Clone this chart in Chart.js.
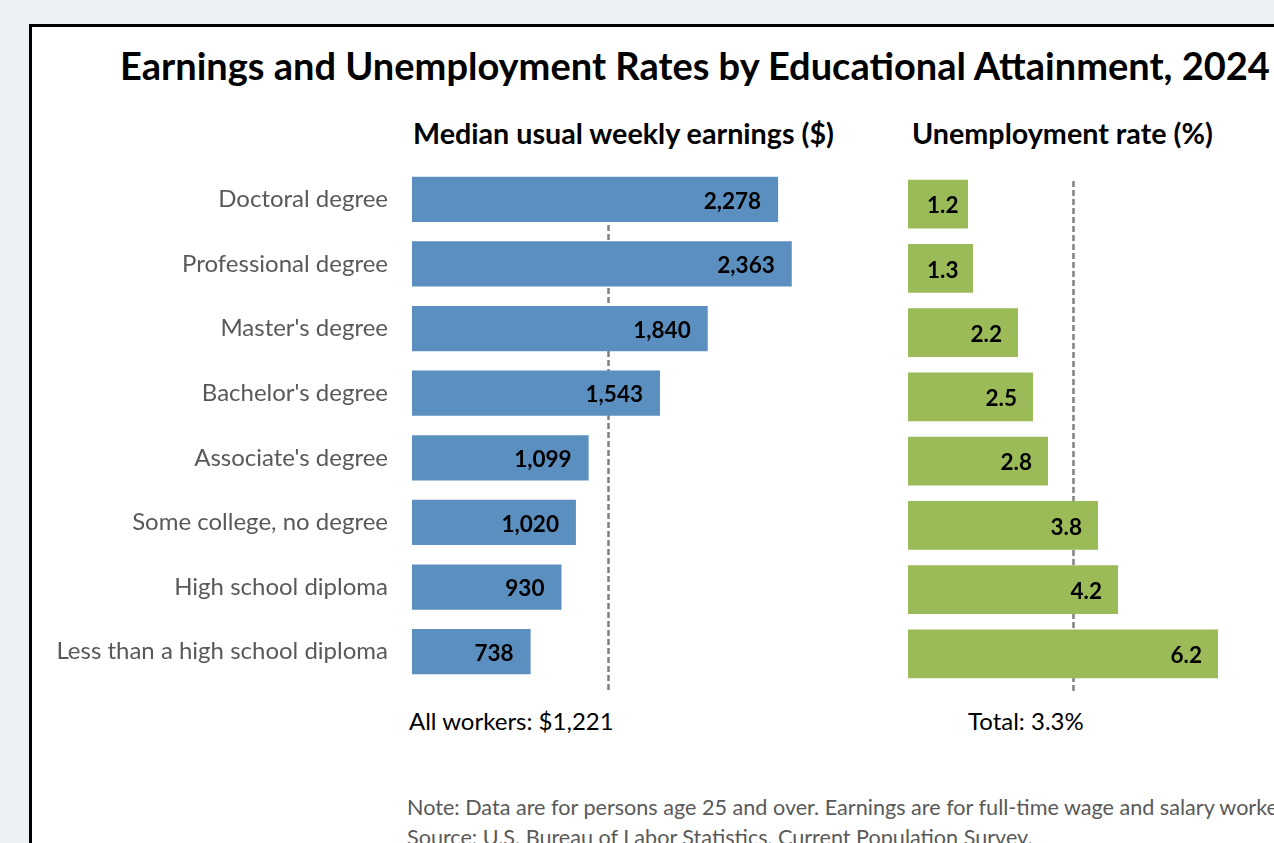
<!DOCTYPE html>
<html>
<head>
<meta charset="utf-8">
<script src="https://cdn.jsdelivr.net/npm/chart.js@4.4.1/dist/chart.umd.min.js"></script>
<style>
  html, body { margin: 0; padding: 0; }
  body { width: 1274px; height: 843px; overflow: hidden; background: #edf0f2; position: relative; font-family: Lato, "Open Sans", sans-serif; }
  .panel { position: absolute; left: 29px; top: 24px; width: 1320px; height: 900px; background: #fff; border: 3px solid #000; box-sizing: border-box; }
  .txt { position: absolute; white-space: nowrap; line-height: 1; }
  .title { left: 120px; top: 46px; font-size: 38px; font-weight: 700; color: #000; }
  .sub { top: 119px; font-size: 28.7px; font-weight: 700; color: #000; }
  .avg { top: 709px; font-size: 24px; color: #000; }
  .note { font-size: 21.6px; color: #595959; }
  .box { position: absolute; }
</style>
</head>
<body>
<div class="panel"></div>
<div class="txt title">Earnings and Unemployment Rates by Educational Attainment, 2024</div>
<div class="txt sub" style="left:413px">Median usual weekly earnings ($)</div>
<div class="txt sub" style="left:912px">Unemployment rate (%)</div>
<div class="txt avg" style="left:409px">All workers: $1,221</div>
<div class="txt avg" style="left:968px">Total: 3.3%</div>
<div class="txt note" style="left:407px; top:797px">Note: Data are for persons age 25 and over. Earnings are for full-time wage and salary workers.</div>
<div class="txt note" style="left:407px; top:827px">Source: U.S. Bureau of Labor Statistics, Current Population Survey.</div>
<div class="box" style="left:40px; top:160px"><canvas id="earnings" width="822" height="540"></canvas></div>
<div class="box" style="left:908px; top:160px"><canvas id="unemployment" width="350" height="540"></canvas></div>
<script>
const categories = [
  'Doctoral degree',
  'Professional degree',
  "Master's degree",
  "Bachelor's degree",
  "Associate's degree",
  'Some college, no degree',
  'High school diploma',
  'Less than a high school diploma',
];
const earnings = [2278, 2363, 1840, 1543, 1099, 1020, 930, 738];
const unemployment = [1.2, 1.3, 2.2, 2.5, 2.8, 3.8, 4.2, 6.2];
const allWorkersEarnings = 1221;
const totalUnemployment = 3.3;

// dashed reference line drawn behind the bars
const refLine = {
  id: 'refLine',
  beforeDatasetsDraw(chart, args, opts) {
    const { ctx, chartArea, scales } = chart;
    const x = Math.round(scales.x.getPixelForValue(opts.value)) + 0.5;
    ctx.save();
    ctx.strokeStyle = '#808080';
    ctx.lineWidth = 2.5;
    ctx.setLineDash([6, 3]);
    ctx.beginPath();
    ctx.moveTo(x, chartArea.top + opts.from);
    ctx.lineTo(x, chartArea.bottom + opts.to);
    ctx.stroke();
    ctx.restore();
  },
};

// bold value labels at the inside end of each bar
const barLabels = {
  id: 'barLabels',
  afterDatasetsDraw(chart, args, opts) {
    const { ctx } = chart;
    const meta = chart.getDatasetMeta(0);
    const data = chart.data.datasets[0].data;
    ctx.save();
    ctx.font = 'bold 22.5px Lato, "Open Sans", sans-serif';
    ctx.fillStyle = '#000';
    ctx.textAlign = 'right';
    ctx.textBaseline = 'middle';
    meta.data.forEach((bar, i) => {
      const text = opts.format(data[i]);
      const w = ctx.measureText(text).width;
      const right = Math.max(bar.x - opts.pad, bar.base + opts.minStart + w);
      ctx.fillText(text, right, bar.y + 2);
    });
    ctx.restore();
  },
};

const fmtMoney = (v) => v.toLocaleString('en-US');
const fmtRate = (v) => v.toFixed(1);

new Chart(document.getElementById('earnings'), {
  type: 'bar',
  data: {
    labels: categories,
    datasets: [{ data: earnings, backgroundColor: '#5b8fc0', barPercentage: 0.7, categoryPercentage: 1 }],
  },
  options: {
    indexAxis: 'y',
    responsive: false,
    animation: false,
    events: [],
    layout: { padding: { top: 7, bottom: 16, left: 0, right: 0 } },
    scales: {
      x: { display: false, min: 0, max: 2800 },
      y: {
        grid: { display: false, drawTicks: false },
        border: { display: false },
        ticks: { color: '#595959', padding: 24, font: { family: 'Lato, "Open Sans", sans-serif', size: 24 } },
        afterFit(scale) {
          scale.width = 372;
          scale.paddingTop = 0;
          scale.paddingBottom = 0;
        },
      },
    },
    plugins: {
      legend: { display: false },
      tooltip: { enabled: false },
      refLine: { value: allWorkersEarnings, from: 13, to: 9 },
      barLabels: { format: fmtMoney, pad: 17, minStart: 40 },
    },
  },
  plugins: [refLine, barLabels],
});

new Chart(document.getElementById('unemployment'), {
  type: 'bar',
  data: {
    labels: categories,
    datasets: [{ data: unemployment, backgroundColor: '#9bbb59', barPercentage: 0.755, categoryPercentage: 1 }],
  },
  options: {
    indexAxis: 'y',
    responsive: false,
    animation: false,
    events: [],
    layout: { padding: { top: 12, bottom: 14, left: 0, right: 0 } },
    scales: {
      x: { display: false, min: 0, max: 7 },
      y: { display: false },
    },
    plugins: {
      legend: { display: false },
      tooltip: { enabled: false },
      refLine: { value: totalUnemployment, from: 9, to: 7 },
      barLabels: { format: fmtRate, pad: 16, minStart: 19 },
    },
  },
  plugins: [refLine, barLabels],
});
</script>
</body>
</html>
